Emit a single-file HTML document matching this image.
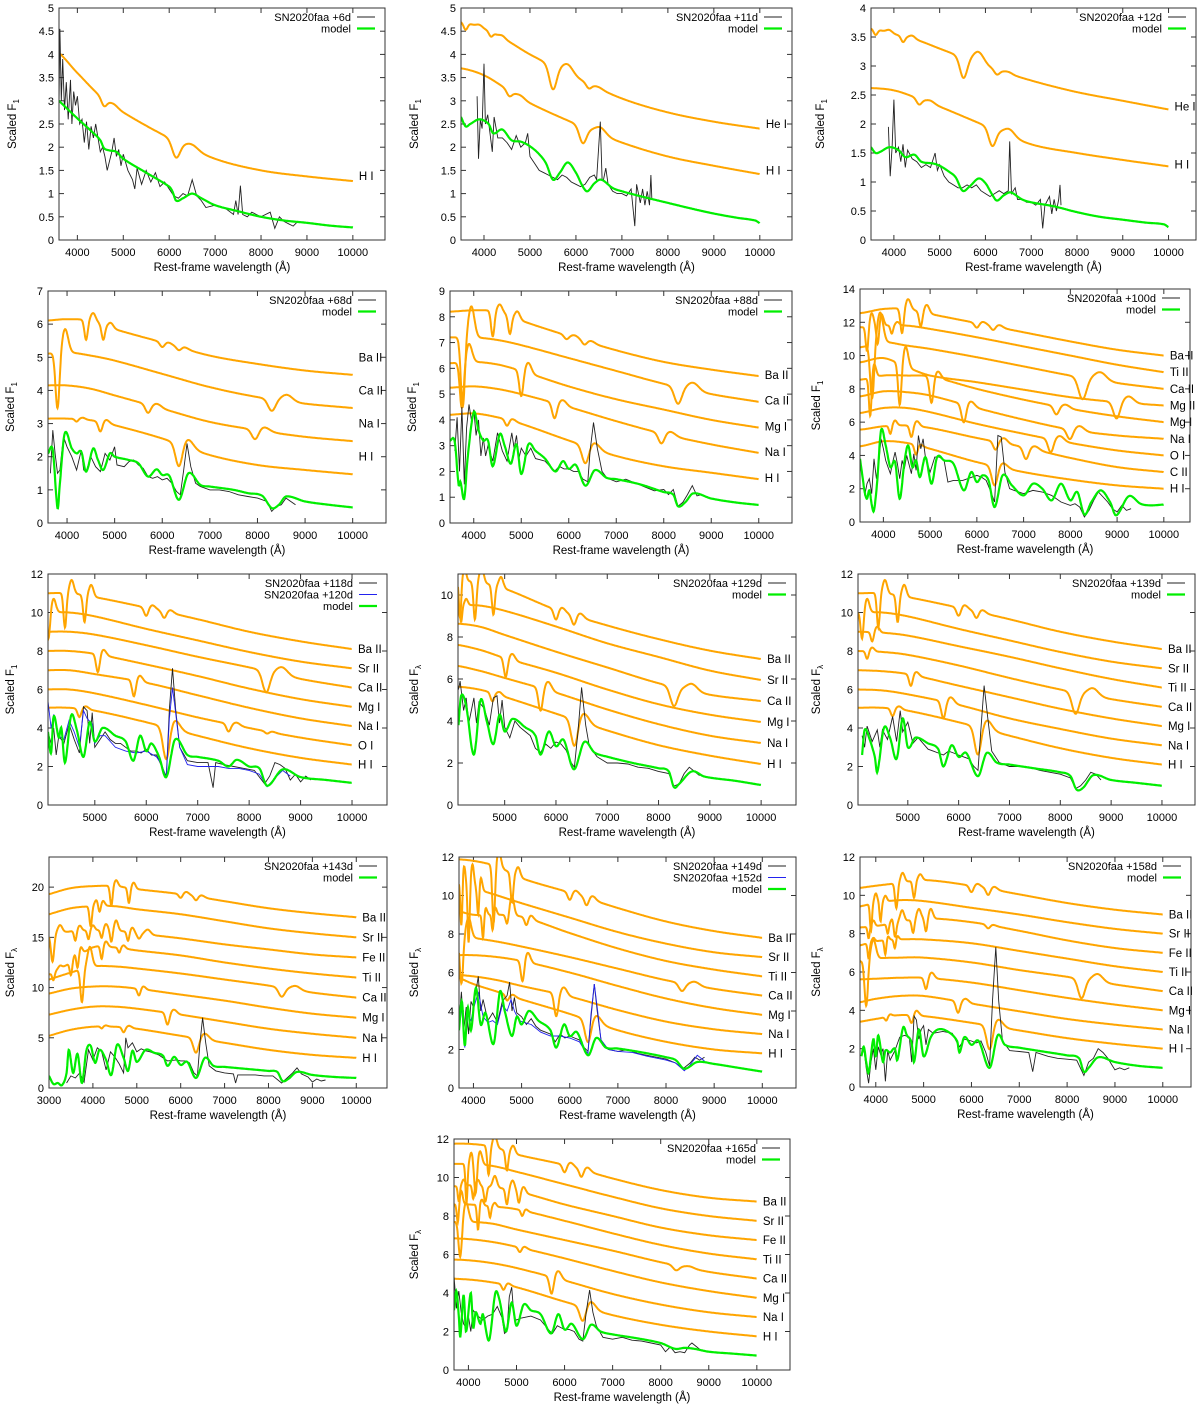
<!DOCTYPE html>
<html><head><meta charset="utf-8"><title>SN2020faa spectra</title>
<style>
html,body{margin:0;padding:0;background:#fff;}
svg{display:block;font-family:"Liberation Sans",Arial,sans-serif;}
</style></head>
<body>
<svg id="fig" xmlns="http://www.w3.org/2000/svg" width="1200" height="1406" viewBox="0 0 1200 1406"></svg>
<script>
// ---------- shared grid for orange continua ----------
const CONT_W=[3000,3500,4000,4500,5000,6000,7000,8000,9000,10000];
const X_TICKS_A=[4000,5000,6000,7000,8000,9000,10000];
const X_TICKS_B=[5000,6000,7000,8000,9000,10000];
const X_TICKS_C=[3000,4000,5000,6000,7000,8000,9000,10000];

// ================= PANEL 1 (+6d) =================
const P1_obs=[[3600,2.9],[3620,4.55],[3650,3.0],[3680,3.9],[3720,2.8],[3760,3.4],[3800,2.6],[3850,3.45],[3880,2.5],[3920,3.2],[3960,2.9],[4000,3.1],[4050,2.5],[4100,2.6],[4150,2.1],[4200,2.55],[4250,1.95],[4300,2.45],[4350,2.2],[4400,2.5],[4450,2.2],[4500,1.9],[4550,2.0],[4600,1.8],[4650,1.5],[4700,1.7],[4750,1.9],[4800,2.2],[4850,1.8],[4900,1.95],[4950,1.6],[5000,1.85],[5100,1.5],[5200,1.3],[5250,1.1],[5300,1.55],[5400,1.2],[5500,1.5],[5600,1.25],[5700,1.45],[5800,1.15],[5900,1.25],[6000,1.1],[6100,0.95],[6200,0.9],[6300,1.0],[6400,0.95],[6500,1.3],[6600,0.95],[6700,0.85],[6800,0.7],[7000,0.75],[7200,0.7],[7400,0.55],[7450,0.85],[7500,0.55],[7550,1.17],[7600,0.55],[7700,0.5],[7800,0.6],[7900,0.55],[8000,0.5],[8200,0.6],[8300,0.25],[8400,0.5],[8500,0.4],[8600,0.35],[8700,0.3],[8800,0.4]];
const P1_model=[[3600,3.0],[4000,2.62],[4300,2.35],[4500,2.15],[4580,1.98],[4700,1.93],[4850,1.9],[5000,1.75],[5500,1.45],[6000,1.15],[6070,1.05],[6150,0.85],[6300,0.9],[6500,1.0],[6700,0.9],[7000,0.75],[7500,0.62],[8000,0.5],[8500,0.42],[9000,0.37],[9500,0.31],[10000,0.27]];
const P1_ions=['H I'];
const P1_ionCont=[[4.1,4.1,3.6,3.1,2.75,2.2,1.75,1.5,1.37,1.27]];
const P1_ionFeat=[[[6150,0.35,6500,0.1,120],[4580,0.15,4800,0.05,80]]];
const P1_labelY=[1.38];

// ================= PANEL 2 (+11d) =================
const P2_obs=[[3850,3.1],[3880,1.75],[3920,2.6],[3960,2.4],[4000,3.8],[4030,2.5],[4080,2.7],[4130,2.3],[4180,1.9],[4220,2.65],[4300,2.2],[4400,2.2],[4500,2.1],[4600,1.95],[4700,2.25],[4800,2.0],[4900,2.1],[4950,2.3],[5000,1.8],[5100,1.65],[5200,1.5],[5300,1.45],[5400,1.4],[5500,1.35],[5600,1.3],[5700,1.4],[5800,1.35],[5900,1.25],[6000,1.2],[6100,1.15],[6200,1.2],[6300,1.35],[6400,1.4],[6450,1.3],[6530,2.55],[6570,1.3],[6600,1.3],[6650,1.55],[6700,1.2],[6800,1.05],[6900,1.0],[7000,1.0],[7100,0.95],[7200,1.1],[7280,0.3],[7320,1.2],[7400,0.8],[7450,1.1],[7500,0.75],[7550,1.05],[7600,0.75],[7630,1.4],[7650,0.9]];
const P2_model=[[3500,2.65],[3600,2.45],[3700,2.5],[3900,2.6],[4100,2.5],[4200,2.3],[4400,2.38],[4600,2.15],[4800,2.12],[5000,2.02],[5200,1.85],[5350,1.65],[5500,1.3],[5650,1.45],[5820,1.67],[6000,1.45],[6150,1.15],[6250,1.05],[6400,1.22],[6550,1.3],[6800,1.12],[7000,1.05],[7500,0.92],[8000,0.8],[8500,0.68],[9000,0.57],[9500,0.48],[9900,0.42],[10000,0.36]];
const P2_ions=['He I','H I'];
const P2_ionCont=[[4.7,4.7,4.55,4.3,4.0,3.5,3.05,2.75,2.55,2.4],[3.7,3.7,3.55,3.25,2.95,2.5,2.1,1.8,1.6,1.42]];
const P2_ionFeat=[[[5500,0.5,5820,0.2,110],[4150,0.1,4400,0.05,60],[3600,0.15,3900,0.05,60],[6280,0.1,6500,0.03,80]],[[6150,0.35,6530,0.15,110],[4550,0.12,4800,0.05,80]]];
const P2_labelY=[2.5,1.5];

// ================= PANEL 3 (+12d) =================
const P3_obs=[[3880,1.95],[3920,1.1],[3960,1.6],[4000,2.42],[4040,1.5],[4100,1.6],[4150,1.35],[4200,1.65],[4250,1.25],[4300,1.55],[4400,1.4],[4500,1.35],[4600,1.25],[4700,1.3],[4800,1.25],[4900,1.5],[4950,1.2],[5000,1.3],[5100,1.1],[5200,1.0],[5300,0.95],[5400,0.9],[5500,0.9],[5600,0.95],[5700,0.9],[5800,0.95],[5900,0.85],[6000,0.8],[6100,0.75],[6200,0.8],[6300,0.85],[6400,0.8],[6500,0.85],[6530,1.7],[6570,0.8],[6650,0.9],[6700,0.7],[6800,0.7],[6900,0.65],[7000,0.65],[7100,0.6],[7200,0.7],[7250,0.2],[7300,0.6],[7400,0.75],[7450,0.45],[7500,0.7],[7550,0.5],[7600,0.7],[7630,0.95],[7650,0.6]];
const P3_model=[[3500,1.6],[3600,1.5],[3700,1.52],[3900,1.6],[4100,1.55],[4250,1.43],[4450,1.47],[4600,1.35],[4850,1.32],[5000,1.28],[5200,1.18],[5350,1.08],[5500,0.85],[5650,0.92],[5850,1.06],[6000,0.98],[6150,0.78],[6250,0.68],[6400,0.77],[6550,0.82],[6800,0.7],[7000,0.65],[7500,0.58],[8000,0.48],[8500,0.4],[9000,0.35],[9500,0.3],[9900,0.27],[10000,0.22]];
const P3_ions=['He I','H I'];
const P3_ionCont=[[3.65,3.65,3.55,3.45,3.3,3.0,2.75,2.55,2.4,2.25],[2.62,2.62,2.58,2.45,2.3,1.97,1.65,1.5,1.38,1.27]];
const P3_ionFeat=[[[5520,0.35,5850,0.2,110],[3600,0.1,3900,0.05,60],[4200,0.1,4400,0.05,60],[6250,0.08,6500,0.03,80]],[[6150,0.3,6520,0.12,110],[4550,0.1,4800,0.04,80]]];
const P3_labelY=[2.3,1.3];

// ================= PANEL 4 (+68d) =================
const P4_obs=[[3650,1.5],[3700,2.8],[3750,2.1],[3800,1.5],[3850,1.6],[3900,2.3],[3950,2.5],[4000,2.3],[4100,2.0],[4200,1.6],[4300,2.2],[4350,1.6],[4400,1.55],[4500,2.0],[4600,1.7],[4700,1.55],[4800,2.1],[4900,1.9],[5000,2.3],[5050,1.75],[5200,1.7],[5300,1.85],[5400,1.9],[5500,1.75],[5600,1.65],[5700,1.4],[5800,1.35],[5900,1.4],[6000,1.3],[6100,1.35],[6200,1.2],[6300,0.95],[6380,0.85],[6450,1.6],[6520,2.4],[6600,1.7],[6700,1.2],[6800,1.1],[7000,1.0],[7200,1.0],[7400,0.95],[7600,0.85],[7800,0.8],[8000,0.75],[8200,0.65],[8300,0.35],[8400,0.5],[8500,0.55],[8600,0.75],[8700,0.65],[8800,0.55]];
const P4_model=[[3600,2.1],[3700,2.2],[3800,0.45],[3850,1.2],[3950,2.7],[4100,2.25],[4200,2.1],[4300,2.15],[4400,1.55],[4550,2.25],[4650,1.9],[4760,1.6],[4900,2.1],[5000,2.0],[5300,1.9],[5500,1.8],[5700,1.4],[5880,1.62],[6000,1.45],[6150,1.42],[6350,0.7],[6550,1.5],[6800,1.15],[7000,1.1],[7500,1.0],[7800,0.9],[8100,0.82],[8300,0.45],[8450,0.55],[8600,0.8],[9000,0.65],[9500,0.55],[10000,0.47]];
const P4_ions=['Ba II','Ca II','Na I','H I'];
const P4_ionCont=[[6.1,6.1,6.15,6.1,5.85,5.45,5.05,4.8,4.6,4.47],[5.1,5.1,5.15,5.05,4.9,4.5,4.1,3.8,3.6,3.47],[4.15,4.15,4.15,4.05,3.85,3.45,3.05,2.8,2.6,2.47],[3.15,3.15,3.15,3.1,2.95,2.55,2.05,1.75,1.6,1.47]];
const P4_ionFeat=[[[4400,0.6,4550,0.25,50],[4760,0.45,4920,0.15,50],[6000,0.15,6130,0.05,70],[6350,0.1,6480,0.05,70]],[[3800,1.7,3960,0.7,60],[8300,0.35,8620,0.2,110]],[[5700,0.25,5900,0.1,80],[7950,0.3,8150,0.12,100]],[[4200,0.08,4330,0.05,50],[4700,0.3,4830,0.1,60],[6350,0.7,6550,0.25,100]]];
const P4_labelY=[5.0,4.0,3.0,2.0];

// ================= PANEL 5 (+88d) =================
const P5_obs=[[3600,2.8],[3650,4.1],[3700,2.0],[3750,4.5],[3800,1.5],[3850,3.7],[3900,4.6],[3950,4.0],[4000,4.4],[4050,3.4],[4100,4.0],[4150,2.6],[4200,3.3],[4250,2.6],[4300,3.0],[4400,2.4],[4500,3.5],[4600,2.8],[4700,2.4],[4800,3.5],[4850,2.9],[4900,3.4],[4950,2.5],[5000,2.9],[5100,2.6],[5200,2.9],[5300,2.5],[5400,2.45],[5500,2.4],[5600,2.2],[5700,2.0],[5800,2.2],[5900,2.1],[6000,2.1],[6100,2.0],[6200,2.0],[6300,1.7],[6400,1.6],[6450,2.8],[6520,3.9],[6600,2.9],[6700,2.0],[6800,1.75],[7000,1.6],[7200,1.7],[7400,1.55],[7600,1.4],[7800,1.25],[8000,1.3],[8100,1.1],[8200,1.3],[8300,0.65],[8400,0.8],[8500,1.1],[8600,1.45],[8700,1.05],[8800,1.1]];
const P5_model=[[3500,3.2],[3600,3.15],[3680,1.5],[3720,1.6],[3800,0.95],[3870,2.5],[4000,4.3],[4100,3.6],[4200,3.2],[4300,3.2],[4400,2.2],[4550,3.45],[4650,3.0],[4780,2.3],[4900,3.05],[5000,1.9],[5150,3.05],[5300,2.8],[5500,2.5],[5720,2.0],[5880,2.4],[6000,2.1],[6150,2.25],[6350,1.45],[6550,2.05],[6800,1.75],[7000,1.7],[7500,1.5],[8000,1.2],[8200,1.1],[8300,0.65],[8450,0.8],[8620,1.15],[9000,0.95],[9500,0.8],[10000,0.7]];
const P5_ions=['Ba II','Ca II','Mg I','Na I','H I'];
const P5_ionCont=[[8.2,8.2,8.25,8.2,7.85,7.25,6.7,6.25,5.95,5.7],[7.2,7.2,7.2,7.1,6.9,6.4,5.9,5.4,5.0,4.7],[6.2,6.2,6.25,6.15,5.9,5.3,4.8,4.4,4.0,3.7],[5.25,5.25,5.3,5.2,5.0,4.5,3.95,3.45,3.05,2.72],[4.2,4.2,4.25,4.1,3.85,3.2,2.6,2.2,1.95,1.7]];
const P5_ionFeat=[[[4400,1.0,4550,0.3,50],[4760,0.7,4920,0.3,50],[5950,0.15,6130,0.1,70],[6330,0.15,6480,0.08,70]],[[3770,2.7,3950,1.2,60],[8300,0.65,8620,0.3,110]],[[3750,1.8,3900,0.7,60],[5000,1.0,5150,0.4,60]],[[5700,0.6,5880,0.2,70],[7950,0.4,8150,0.15,90]],[[4700,0.25,4820,0.08,60],[6350,0.7,6550,0.25,100]]];
const P5_labelY=[5.75,4.75,3.75,2.75,1.75];

// ================= PANEL 6 (+100d) =================
const P6_obs=[[3500,3.8],[3600,1.6],[3650,2.3],[3700,2.6],[3750,1.7],[3800,3.8],[3850,2.6],[3900,3.5],[3950,5.0],[4000,4.4],[4050,3.7],[4100,3.3],[4150,2.9],[4200,3.6],[4250,4.2],[4300,3.5],[4350,2.6],[4400,3.7],[4450,3.2],[4500,4.0],[4600,2.9],[4650,4.1],[4700,3.1],[4750,5.2],[4800,4.4],[4850,5.0],[4900,3.9],[5000,3.0],[5100,3.9],[5200,3.9],[5300,3.7],[5380,2.4],[5500,2.5],[5700,2.5],[5900,2.7],[6000,2.8],[6100,2.7],[6200,2.5],[6300,1.8],[6380,1.2],[6450,5.2],[6520,5.1],[6600,3.0],[6700,2.0],[6800,1.9],[7000,1.7],[7200,1.9],[7400,1.8],[7600,1.6],[7800,1.2],[8000,1.0],[8100,1.1],[8200,0.9],[8300,0.3],[8400,0.7],[8500,1.3],[8600,1.8],[8700,1.5],[8800,1.2],[8900,0.8],[9000,0.6],[9100,1.0],[9200,0.7],[9300,0.8]];
const P6_model=[[3500,3.8],[3560,2.6],[3600,1.8],[3650,1.4],[3700,1.9],[3760,0.9],[3800,0.7],[3870,2.5],[3950,5.5],[4050,4.6],[4150,3.3],[4250,3.6],[4350,1.4],[4450,3.6],[4530,4.6],[4620,3.3],[4700,3.7],[4780,2.7],[4900,3.9],[5030,2.3],[5150,3.9],[5300,3.7],[5500,3.5],[5720,1.9],[5880,3.0],[6000,2.4],[6120,2.8],[6250,2.5],[6380,0.9],[6550,2.8],[6750,2.2],[7000,1.6],[7200,2.3],[7400,2.0],[7600,1.3],[7800,2.3],[8000,1.3],[8150,1.8],[8300,0.45],[8450,1.2],[8650,1.9],[8850,1.2],[8980,0.4],[9250,1.55],[9500,1.1],[9700,1.0],[10000,1.05]];
const P6_ions=['Ba II','Ti II','Ca II','Mg II','Mg I','Na I','O I','C II','H I'];
const P6_ionCont=[[12.55,12.55,12.8,12.8,12.5,11.95,11.4,10.85,10.35,10.0],[11.7,11.7,11.8,11.8,11.6,11.1,10.55,10.0,9.45,9.0],[10.5,10.5,10.8,10.6,10.4,9.9,9.35,8.8,8.35,8.0],[9.6,9.6,9.85,9.3,8.8,8.4,7.95,7.5,7.2,7.0],[8.55,8.55,8.8,8.8,8.75,8.0,7.35,6.8,6.35,6.0],[7.55,7.55,7.85,7.8,7.6,6.85,6.15,5.55,5.2,5.0],[6.55,6.55,6.85,6.85,6.6,5.9,5.3,4.75,4.3,4.0],[5.55,5.55,5.75,5.8,5.65,5.05,4.5,3.85,3.3,3.0],[4.55,4.55,4.85,4.75,4.4,3.6,3.0,2.55,2.2,2.0]];
const P6_ionFeat=[[[4400,1.5,4530,0.6,50],[4800,0.9,4930,0.5,50],[6000,0.3,6130,0.15,70],[6350,0.25,6480,0.15,70]],[[3650,1.5,3750,0.8,40],[3880,1.2,3960,0.7,40],[4180,0.5,4300,0.2,40]],[[3760,3.3,3930,1.8,60],[8260,1.3,8640,0.5,120]],[[4350,2.5,4480,1.2,50],[8990,1.0,9250,0.4,100]],[[3720,2.4,3800,0.8,40],[5030,1.6,5170,0.4,60],[7700,0.5,7900,0.2,80]],[[5720,1.1,5880,0.3,70],[7990,0.6,8200,0.3,90]],[[7580,0.8,7780,0.3,80]],[[4150,0.5,4250,0.3,40],[4600,0.7,4720,0.3,50],[6400,0.5,6580,0.3,70],[7050,0.7,7250,0.2,80]],[[4700,0.6,4800,0.1,50],[6380,1.2,6560,0.3,90]]];
const P6_labelY=[10.0,9.0,8.0,7.0,6.0,5.0,4.0,3.0,2.0];

// ================= PANEL 7 (+118d / +120d) =================
const P7_obs=[[4090,3.8],[4150,3.2],[4200,4.0],[4250,2.6],[4300,3.6],[4400,3.2],[4500,4.2],[4600,3.4],[4700,2.7],[4780,5.1],[4850,4.9],[4900,3.2],[4950,4.8],[5000,3.0],[5100,3.4],[5200,3.8],[5300,3.4],[5400,3.2],[5500,3.2],[5600,3.0],[5700,2.8],[5800,2.8],[5900,2.7],[6000,2.9],[6100,2.6],[6200,2.6],[6300,2.0],[6390,1.5],[6450,5.0],[6510,7.1],[6570,5.0],[6650,3.0],[6800,2.3],[7000,2.2],[7200,2.2],[7300,0.9],[7350,2.2],[7500,2.1],[7700,2.0],[7900,1.9],[8100,1.8],[8300,1.1],[8400,1.5],[8500,2.2],[8600,2.1],[8700,1.9],[8800,1.3],[8900,1.6],[9000,1.2],[9100,1.5],[9200,1.3]];
const P7_obs2=[[4090,5.4],[4150,4.0],[4200,4.7],[4300,3.6],[4400,3.4],[4500,4.4],[4600,3.8],[4700,3.0],[4780,4.9],[4850,4.5],[4950,4.2],[5000,3.2],[5100,3.6],[5200,3.6],[5400,3.0],[5600,2.8],[5800,2.7],[6000,2.8],[6200,2.5],[6300,2.1],[6390,1.4],[6450,4.5],[6510,6.1],[6570,4.8],[6650,3.0],[6800,2.1],[7000,2.0],[7200,2.0],[7400,2.0],[7600,1.9],[7800,1.9],[8000,1.8],[8200,1.6],[8350,0.95],[8500,1.4],[8650,1.8],[8800,1.5]];
const P7_model=[[4090,3.8],[4150,2.7],[4200,4.6],[4300,3.5],[4350,4.0],[4420,2.2],[4540,4.65],[4650,3.9],[4780,2.5],[4900,4.3],[5000,3.3],[5150,4.0],[5400,3.6],[5600,3.3],[5750,2.3],[5880,3.6],[6000,2.8],[6100,3.2],[6250,2.5],[6390,1.45],[6560,3.4],[6800,2.6],[7000,2.5],[7400,2.3],[7600,2.0],[7760,2.35],[8000,2.0],[8200,1.9],[8350,1.0],[8650,1.85],[9000,1.45],[9500,1.3],[10000,1.15]];
const P7_ions=['Ba II','Sr II','Ca II','Mg I','Na I','O I','H I'];
const P7_ionCont=[[11,11,11,11.0,10.8,10.25,9.65,9.0,8.5,8.1],[10,10,10,10.0,9.8,9.15,8.55,7.95,7.45,7.1],[9,9,9,9.0,8.85,8.3,7.7,7.15,6.55,6.1],[8,8,8,8.0,7.85,7.3,6.7,6.05,5.5,5.1],[7,7,7,7.0,6.8,6.35,5.7,5.05,4.5,4.1],[6,6,6,6.0,5.8,5.2,4.55,4.0,3.5,3.1],[5,5,5.05,5.05,4.9,4.3,3.6,2.95,2.45,2.1]];
const P7_ionFeat=[[[4420,1.8,4550,0.7,40],[4800,1.4,4930,0.6,40],[6000,0.45,6120,0.2,60],[6350,0.35,6470,0.15,60]],[[4100,1.4,4200,0.7,40]],[[8330,1.1,8640,0.4,100]],[[5060,0.95,5170,0.3,50]],[[5760,0.85,5880,0.3,50]],[[7600,0.4,7760,0.15,60],[8350,0.12,8450,0.05,60]],[[4700,0.45,4830,0.15,50],[6390,1.75,6560,0.5,90]]];
const P7_labelY=[8.1,7.1,6.1,5.1,4.1,3.1,2.1];

// ================= PANEL 8 (+129d) =================
const P8_obs=[[4100,5.5],[4130,5.9],[4200,4.5],[4250,5.1],[4300,3.9],[4400,5.1],[4450,3.9],[4500,4.9],[4600,4.6],[4700,3.8],[4780,5.1],[4850,5.2],[4900,3.9],[4950,5.0],[5000,3.7],[5100,3.2],[5200,4.0],[5300,3.7],[5400,3.5],[5500,3.3],[5600,2.7],[5700,2.5],[5800,2.9],[5900,2.7],[6000,3.0],[6100,2.9],[6200,2.6],[6300,2.0],[6360,1.8],[6430,3.5],[6500,5.6],[6580,3.8],[6650,2.8],[6800,2.3],[7000,2.0],[7200,2.0],[7400,1.95],[7600,1.8],[7800,1.75],[8000,1.6],[8200,1.5],[8300,0.9],[8400,1.0],[8500,1.5],[8600,1.8],[8700,1.6],[8800,1.4]];
const P8_model=[[4100,3.8],[4150,5.2],[4250,4.7],[4400,2.4],[4530,5.0],[4650,4.0],[4780,2.9],[4900,4.3],[5000,3.5],[5150,4.1],[5400,3.7],[5600,3.3],[5700,2.4],[5860,3.5],[6000,2.8],[6150,3.1],[6350,1.7],[6550,3.0],[6750,2.5],[7000,2.3],[7500,2.0],[8000,1.75],[8200,1.6],[8300,0.85],[8400,1.0],[8650,1.6],[8900,1.35],[9500,1.15],[10000,0.95]];
const P8_ions=['Ba II','Sr II','Ca II','Mg I','Na I','H I'];
const P8_ionCont=[[10.7,10.7,10.7,10.6,10.3,9.3,8.55,7.9,7.35,6.95],[9.5,9.5,9.5,9.5,9.25,8.5,7.7,7.05,6.4,5.95],[8.65,8.65,8.65,8.5,8.1,7.3,6.55,5.8,5.25,4.95],[7.65,7.65,7.65,7.4,7.0,6.3,5.5,4.8,4.3,3.95],[6.65,6.65,6.65,6.4,6.05,5.35,4.55,3.85,3.3,2.95],[5.65,5.65,5.65,5.5,5.15,4.35,3.55,2.85,2.35,1.95]];
const P8_ionFeat=[[[4130,1.8,4220,0.6,30],[4420,1.8,4550,0.7,40],[4780,1.4,4930,0.5,40],[6000,0.5,6120,0.2,60],[6350,0.45,6480,0.2,60]],[[4150,0.8,4250,0.3,30]],[[8300,0.9,8650,0.35,100]],[[5020,0.9,5150,0.3,50]],[[5700,1.1,5850,0.4,60]],[[4760,0.4,4900,0.15,50],[6360,1.3,6550,0.45,90]]];
const P8_labelY=[6.95,5.95,4.95,3.95,2.95,1.95];

// ================= PANEL 9 (+139d) =================
const P9_obs=[[4100,3.6],[4150,3.0],[4200,4.1],[4300,3.3],[4400,3.9],[4450,3.0],[4500,3.9],[4600,3.4],[4700,4.6],[4780,3.3],[4850,4.9],[4900,3.8],[5000,4.3],[5100,3.2],[5200,3.5],[5300,3.2],[5400,2.9],[5500,2.8],[5600,2.7],[5700,2.6],[5800,2.8],[5900,2.7],[6000,2.6],[6100,2.5],[6200,2.4],[6300,2.0],[6380,1.8],[6440,4.0],[6500,6.2],[6570,4.6],[6650,2.8],[6800,2.2],[7000,2.0],[7200,2.0],[7400,1.95],[7600,1.8],[7800,1.7],[8000,1.6],[8200,1.4],[8300,0.85],[8400,1.0],[8500,1.3],[8600,1.7],[8700,1.6],[8800,1.3]];
const P9_model=[[4100,2.6],[4150,3.9],[4250,3.4],[4350,2.5],[4400,1.7],[4530,4.0],[4650,3.5],[4780,2.4],[4900,4.5],[5000,3.0],[5150,3.5],[5400,3.2],[5600,2.9],[5700,2.0],[5860,3.1],[6000,2.5],[6150,2.7],[6380,1.5],[6550,2.7],[6750,2.2],[7000,2.1],[7500,1.9],[8000,1.7],[8200,1.5],[8320,0.8],[8450,0.9],[8650,1.55],[9000,1.3],[9500,1.15],[10000,1.0]];
const P9_ions=['Ba II','Sr II','Ti II','Ca II','Mg I','Na I','H I'];
const P9_ionCont=[[11,11,11,11,10.8,10.25,9.65,9.0,8.5,8.1],[10,10,10,10,9.8,9.15,8.55,7.95,7.45,7.1],[9,9,9,8.95,8.8,8.25,7.7,7.1,6.55,6.1],[8,8,8,7.95,7.8,7.25,6.6,6.0,5.5,5.1],[7,7,7,6.95,6.8,6.2,5.6,5.0,4.5,4.1],[6,6,6,5.95,5.75,5.2,4.5,3.95,3.45,3.1],[5,5,5.05,5.05,4.9,4.3,3.6,2.95,2.45,2.1]];
const P9_ionFeat=[[[4420,1.8,4550,0.7,40],[4800,1.4,4930,0.6,40],[6000,0.45,6120,0.2,60],[6350,0.35,6470,0.15,60]],[[4100,1.4,4200,0.7,40]],[[4300,0.5,4400,0.3,40]],[[4200,0.4,4300,0.2,40],[8300,1.1,8640,0.4,100]],[[5060,0.6,5170,0.2,50]],[[5700,0.9,5850,0.3,60]],[[4700,0.4,4830,0.15,50],[6380,1.5,6560,0.5,90]]];
const P9_labelY=[8.1,7.1,6.1,5.1,4.1,3.1,2.1];

// ================= PANEL 10 (+143d) =================
const P10_obs=[[3400,0.5],[3500,1.2],[3600,1.0],[3700,1.5],[3800,0.6],[3900,3.8],[4000,2.8],[4100,4.0],[4200,3.6],[4300,1.8],[4400,3.6],[4500,3.1],[4600,2.4],[4700,1.5],[4750,5.0],[4800,4.0],[4900,4.5],[5000,3.6],[5100,3.9],[5200,3.7],[5300,3.6],[5500,3.3],[5700,2.7],[5900,2.8],[6000,2.7],[6100,2.7],[6200,2.5],[6300,1.5],[6380,1.2],[6440,4.5],[6500,7.0],[6570,4.5],[6650,2.2],[6800,1.7],[7000,1.5],[7200,1.4],[7250,0.5],[7300,1.3],[7500,1.3],[7700,1.3],[7900,1.2],[8100,1.2],[8300,0.5],[8400,0.9],[8550,1.5],[8650,2.0],[8750,1.4],[8900,1.1],[9000,0.6],[9100,0.9],[9200,0.7],[9300,0.8]];
const P10_model=[[3000,1.2],[3100,0.4],[3200,0.5],[3300,0.3],[3400,1.5],[3450,3.8],[3550,1.5],[3650,3.4],[3750,0.5],[3850,3.7],[3950,4.2],[4050,2.5],[4150,3.8],[4300,2.8],[4420,1.3],[4550,4.3],[4700,3.0],[4800,1.7],[4900,3.7],[5000,2.6],[5200,3.8],[5400,3.5],[5600,3.2],[5700,2.2],[5850,3.1],[6000,2.3],[6150,2.6],[6350,1.0],[6550,3.0],[6750,2.2],[7000,2.1],[7500,1.9],[8000,1.7],[8200,1.6],[8320,0.7],[8450,0.9],[8650,1.6],[9000,1.3],[9500,1.1],[10000,1.0]];
const P10_ions=['Ba II','Sr II','Fe II','Ti II','Ca II','Mg I','Na I','H I'];
const P10_ionCont=[[19.3,19.9,20.1,20.1,19.8,19.3,18.6,17.9,17.4,17.0],[17.3,17.9,18.1,18.1,17.8,17.3,16.6,15.9,15.4,15.0],[15.2,15.6,15.7,15.7,15.4,14.9,14.3,13.8,13.3,13.0],[11.3,12.5,14.0,14.0,13.7,13.2,12.5,11.9,11.4,11.0],[10.8,11.5,12.1,12.1,11.9,11.4,10.8,10.2,9.5,9.0],[9.4,9.9,10.1,10.1,9.9,9.3,8.7,8.0,7.4,7.0],[7.3,7.8,8.1,8.1,7.9,7.3,6.6,5.9,5.4,5.0],[5.2,5.8,6.1,6.1,5.9,5.2,4.5,3.8,3.3,3.0]];
const P10_ionFeat=[[[4420,2.0,4530,0.6,40],[4820,1.5,4930,0.6,40],[6000,0.4,6130,0.3,60],[6350,0.4,6480,0.2,60]],[[3950,2.0,4080,0.6,40],[4150,0.8,4230,0.5,40]],[[3080,2.7,3250,0.8,50],[3600,1.0,3700,0.5,40],[3900,0.9,4000,0.5,40],[4200,0.8,4300,0.6,40],[4420,1.2,4530,1.0,40],[4800,0.9,4900,0.5,40],[5050,0.5,5250,0.5,60]],[[3100,0.8,3250,0.3,40],[3500,1.3,3600,0.6,40],[3650,1.5,3720,0.8,40],[4200,1.3,4300,0.5,40],[4600,0.5,4700,0.3,40]],[[3750,3.3,3930,2.0,50],[8300,0.9,8620,0.4,100]],[[5050,0.7,5150,0.3,50]],[[5700,1.2,5850,0.4,60]],[[4200,0.2,4300,0.1,40],[4700,0.5,4830,0.2,50],[6350,1.5,6550,0.6,90]]];
const P10_labelY=[17.0,15.0,13.0,11.0,9.0,7.0,5.0,3.0];

// ================= PANEL 11 (+149d / +152d) =================
const P11_obs=[[3700,3.4],[3750,5.0],[3800,3.0],[3850,4.2],[3900,2.8],[3950,4.5],[4000,4.2],[4100,5.8],[4150,4.0],[4200,4.6],[4300,3.5],[4400,3.9],[4500,3.4],[4600,4.5],[4700,4.8],[4750,5.5],[4800,4.0],[4850,4.7],[4900,3.9],[5000,3.7],[5100,3.3],[5200,3.6],[5300,3.2],[5400,3.0],[5500,2.9],[5600,2.8],[5700,2.4],[5800,2.8],[5900,2.6],[6000,2.7],[6100,2.6],[6200,2.5],[6300,2.1],[6380,1.9],[6440,3.6],[6510,5.4],[6570,4.0],[6650,2.5],[6800,2.0],[7000,1.9],[7200,2.0],[7400,1.8],[7600,1.7],[7800,1.6],[8000,1.5],[8200,1.3],[8350,1.0],[8500,1.3],[8600,1.6],[8700,1.45],[8800,1.6]];
const P11_obs2=[[3700,4.0],[3750,4.3],[3820,2.1],[3880,3.8],[3950,3.5],[4000,4.1],[4100,5.0],[4200,3.7],[4300,3.4],[4400,3.5],[4500,3.3],[4600,4.3],[4700,4.0],[4780,4.6],[4850,4.0],[4950,3.5],[5050,3.4],[5200,3.3],[5400,2.9],[5600,2.7],[5800,2.7],[6000,2.6],[6200,2.4],[6300,2.0],[6380,1.8],[6440,3.8],[6510,5.4],[6570,4.2],[6650,2.5],[6800,2.0],[7000,1.9],[7300,1.85],[7600,1.65],[8000,1.45],[8200,1.3],[8380,0.9],[8500,1.2],[8650,1.7],[8800,1.4]];
const P11_model=[[3700,3.0],[3760,4.5],[3820,2.2],[3880,4.2],[3950,3.0],[4050,5.2],[4150,3.3],[4250,3.9],[4420,2.3],[4550,5.0],[4650,4.0],[4800,2.7],[4900,3.7],[5000,3.3],[5150,4.0],[5350,3.5],[5600,3.0],[5720,2.1],[5880,3.3],[6000,2.7],[6150,2.9],[6380,1.7],[6550,2.6],[6750,2.1],[7000,2.05],[7500,1.85],[8000,1.6],[8200,1.45],[8380,1.0],[8650,1.35],[9000,1.25],[9500,1.05],[10000,0.85]];
const P11_ions=['Ba II','Sr II','Ti II','Ca II','Mg I','Na I','H I'];
const P11_ionCont=[[11.9,11.9,11.8,11.5,10.9,10.15,9.35,8.65,8.15,7.8],[10.9,10.9,10.4,10.0,9.6,8.85,8.1,7.5,7.05,6.8],[9.3,9.3,9.0,9.0,8.9,8.05,7.25,6.6,6.15,5.8],[8.0,8.0,7.8,7.6,7.35,6.8,6.2,5.6,5.15,4.8],[6.9,6.9,6.9,6.8,6.6,6.0,5.3,4.65,4.15,3.8],[5.9,5.9,5.8,5.6,5.3,4.75,4.05,3.45,3.05,2.8],[5.9,5.9,5.4,5.0,4.6,3.85,3.0,2.4,2.0,1.8]];
const P11_ionFeat=[[[4420,3.0,4530,0.8,40],[4800,1.5,4930,0.5,40],[6000,0.4,6130,0.2,60],[6350,0.4,6480,0.2,60]],[[3750,2.5,3800,1.0,30],[3900,3.0,3980,1.2,30],[4100,1.5,4150,0.7,30]],[[4200,1.3,4250,0.4,30],[4400,0.9,4450,0.4,30],[4700,0.5,4800,1.0,40],[5100,0.4,5200,0.2,50]],[[3750,2.5,3900,1.0,50],[8330,0.4,8600,0.2,90]],[[5020,1.1,5130,0.5,50]],[[5720,1.2,5880,0.4,60]],[[4700,0.3,4830,0.1,50],[6380,1.2,6560,0.4,90]]];
const P11_labelY=[7.8,6.8,5.8,4.8,3.8,2.8,1.8];

// ================= PANEL 12 (+158d) =================
const P12_obs=[[3700,1.7],[3750,2.0],[3800,1.0],[3850,0.2],[3900,1.3],[3950,2.0],[4000,0.9],[4050,2.1],[4100,1.7],[4150,2.0],[4200,0.3],[4250,1.9],[4300,1.4],[4400,1.9],[4500,2.6],[4600,2.7],[4700,2.6],[4750,1.3],[4800,3.7],[4850,3.5],[4900,2.5],[4950,3.0],[5000,3.2],[5050,2.2],[5100,3.0],[5200,2.8],[5400,2.9],[5600,2.8],[5700,2.3],[5750,2.1],[5850,2.5],[6000,2.4],[6100,2.3],[6200,2.4],[6300,1.8],[6380,1.1],[6440,4.5],[6510,7.3],[6570,4.5],[6650,2.4],[6800,1.9],[7000,1.85],[7200,1.8],[7280,0.8],[7350,1.8],[7600,1.6],[7800,1.5],[8000,1.45],[8200,1.4],[8350,0.6],[8450,1.3],[8550,1.5],[8650,2.0],[8750,1.8],[8850,1.5],[9000,0.9],[9100,1.0],[9200,0.9],[9300,1.0]];
const P12_model=[[3700,1.6],[3750,2.1],[3800,1.3],[3850,0.75],[3950,2.5],[4000,1.6],[4050,2.7],[4150,1.3],[4200,1.9],[4300,1.8],[4400,2.0],[4450,1.4],[4570,3.1],[4650,2.7],[4750,2.3],[4800,1.3],[4900,3.0],[5000,1.6],[5150,2.6],[5300,3.0],[5500,2.9],[5700,2.4],[5750,1.8],[5850,2.6],[6000,2.2],[6150,2.4],[6380,1.0],[6550,2.7],[6700,2.2],[7000,2.05],[7500,1.85],[8000,1.65],[8250,1.5],[8350,0.8],[8450,1.0],[8650,1.55],[9000,1.3],[9500,1.1],[10000,1.0]];
const P12_ions=['Ba II','Sr II','Fe II','Ti II','Ca II','Mg I','Na I','H I'];
const P12_ionCont=[[10.35,10.35,10.5,10.65,10.8,10.5,10.05,9.6,9.25,9.0],[9.35,9.35,9.6,9.75,9.7,9.35,9.0,8.6,8.25,8.0],[8.3,8.3,8.4,8.6,8.8,8.6,8.15,7.65,7.25,7.0],[7.3,7.3,7.6,7.7,7.7,7.5,7.1,6.7,6.3,6.0],[6.5,6.5,6.7,6.75,6.75,6.5,6.1,5.75,5.35,5.0],[5.6,5.6,5.65,5.7,5.7,5.45,5.05,4.65,4.3,4.0],[4.35,4.35,4.6,4.75,4.75,4.35,3.95,3.55,3.25,3.0],[3.35,3.35,3.55,3.75,3.7,3.35,2.95,2.55,2.25,2.0]];
const P12_ionFeat=[[[4430,1.3,4560,0.5,40],[4800,0.9,4930,0.3,40],[6000,0.35,6130,0.15,60],[6350,0.35,6480,0.15,60]],[[3900,1.4,4000,0.5,30],[4100,1.0,4200,0.3,30]],[[3850,0.6,3950,0.3,30],[4250,0.5,4350,0.3,30],[4400,0.8,4550,0.6,40],[4780,0.7,4900,0.5,40],[5050,0.7,5150,0.5,40],[6350,0.2,6450,0.05,60]],[[3850,0.8,3950,0.2,30],[4200,0.8,4250,0.2,30],[4400,0.5,4450,0.2,30]],[[3800,2.4,3950,1.0,50],[8300,1.0,8640,0.4,100]],[[5050,0.6,5170,0.3,50]],[[5720,0.6,5880,0.2,60]],[[4220,0.2,4300,0.1,40],[4750,0.45,4850,0.25,50],[6380,1.3,6560,0.4,90]]];
const P12_labelY=[9.0,8.0,7.0,6.0,5.0,4.0,3.0,2.0];

// ================= PANEL 13 (+165d) =================
const P13_obs=[[3700,4.9],[3750,3.2],[3800,4.1],[3850,3.0],[3900,2.4],[3950,2.2],[4000,2.8],[4050,2.0],[4100,3.1],[4200,2.8],[4300,2.6],[4400,2.8],[4500,2.9],[4600,3.3],[4700,2.7],[4750,1.9],[4800,2.0],[4850,3.8],[4900,4.3],[4950,2.7],[5000,2.6],[5100,2.7],[5300,2.8],[5500,2.6],[5700,2.0],[5750,1.9],[5850,2.3],[6000,2.1],[6100,2.1],[6200,2.0],[6300,1.6],[6380,1.5],[6450,3.0],[6520,4.15],[6590,3.0],[6660,2.3],[6800,1.7],[7000,1.6],[7200,1.7],[7400,1.55],[7600,1.5],[7800,1.4],[8000,1.3],[8100,0.95],[8200,1.2],[8300,0.9],[8400,0.95],[8500,0.9],[8600,1.3],[8650,1.4],[8750,1.2],[8850,1.0]];
const P13_model=[[3700,3.1],[3750,4.1],[3800,2.8],[3830,1.7],[3900,3.9],[3950,2.0],[4050,4.0],[4100,2.2],[4150,3.0],[4250,2.4],[4300,2.9],[4430,1.55],[4560,4.0],[4650,3.6],[4780,2.0],[4900,3.5],[5000,2.3],[5150,3.4],[5300,3.1],[5500,2.9],[5720,1.9],[5870,2.9],[6000,2.1],[6150,2.4],[6380,1.6],[6550,2.35],[6750,2.0],[7000,1.85],[7500,1.65],[8000,1.4],[8300,1.1],[8500,1.15],[8700,1.1],[9000,0.95],[9500,0.85],[10000,0.75]];
const P13_ions=['Ba II','Sr II','Fe II','Ti II','Ca II','Mg I','Na I','H I'];
const P13_ionCont=[[11.75,11.75,11.75,11.6,11.2,10.65,9.95,9.35,8.95,8.75],[10.7,10.7,10.7,10.6,10.3,9.65,9.0,8.4,8.0,7.75],[9.5,9.5,9.6,9.5,9.3,8.6,8.0,7.4,7.0,6.75],[8.6,8.6,8.6,8.5,8.35,7.75,7.1,6.5,6.05,5.75],[7.7,7.7,7.7,7.6,7.3,6.75,6.2,5.6,5.1,4.75],[6.85,6.85,6.8,6.65,6.4,5.8,5.15,4.55,4.1,3.75],[5.75,5.75,5.7,5.55,5.3,4.65,3.95,3.4,3.0,2.75],[4.75,4.75,4.7,4.55,4.3,3.55,2.85,2.35,2.0,1.75]];
const P13_ionFeat=[[[4420,1.5,4550,0.6,40],[4800,1.0,4930,0.4,40],[6000,0.4,6130,0.2,60],[6350,0.4,6480,0.2,60]],[[3960,2.0,4060,0.6,30],[4150,1.6,4240,0.7,40]],[[3800,0.8,3900,0.3,30],[4100,0.7,4200,0.3,30],[4350,0.8,4550,0.6,40],[4800,0.8,4920,0.5,40],[5050,0.6,5150,0.3,40]],[[3780,1.0,3850,0.7,30],[4200,1.3,4280,0.3,30],[4450,0.6,4550,0.2,30],[5120,0.3,5200,0.1,40]],[[3830,1.9,3950,1.0,50],[8320,0.25,8600,0.1,90]],[[5070,0.25,5170,0.1,50]],[[5730,0.9,5870,0.4,60]],[[4730,0.3,4830,0.1,50],[6380,0.8,6550,0.4,90]]];
const P13_labelY=[8.75,7.75,6.75,5.75,4.75,3.75,2.75,1.75];

// ---------- panel layout (geometry only) ----------
const PANELS=[
 {id:1,L:59,R:385,T:8,B:240,x0:3600,x1:10700,y0:0,y1:5,ystep:0.5,xt:X_TICKS_A,ylx:16,sub:'1',leg:['SN2020faa +6d'],obs:P1_obs,model:P1_model,ions:P1_ions,cont:P1_ionCont,feat:P1_ionFeat,lab:P1_labelY},
 {id:2,L:461,R:792,T:8,B:240,x0:3500,x1:10700,y0:0,y1:5,ystep:0.5,xt:X_TICKS_A,ylx:418,sub:'1',leg:['SN2020faa +11d'],obs:P2_obs,model:P2_model,ions:P2_ions,cont:P2_ionCont,feat:P2_ionFeat,lab:P2_labelY},
 {id:3,L:871,R:1196,T:8,B:240,x0:3500,x1:10600,y0:0,y1:4,ystep:0.5,xt:X_TICKS_A,ylx:824,sub:'1',leg:['SN2020faa +12d'],obs:P3_obs,model:P3_model,ions:P3_ions,cont:P3_ionCont,feat:P3_ionFeat,lab:P3_labelY},
 {id:4,L:48,R:386,T:291,B:523,x0:3600,x1:10700,y0:0,y1:7,ystep:1,xt:X_TICKS_A,ylx:14,sub:'1',leg:['SN2020faa +68d'],obs:P4_obs,model:P4_model,ions:P4_ions,cont:P4_ionCont,feat:P4_ionFeat,lab:P4_labelY},
 {id:5,L:450,R:792,T:291,B:523,x0:3500,x1:10700,y0:0,y1:9,ystep:1,xt:X_TICKS_A,ylx:416,sub:'1',leg:['SN2020faa +88d'],obs:P5_obs,model:P5_model,ions:P5_ions,cont:P5_ionCont,feat:P5_ionFeat,lab:P5_labelY},
 {id:6,L:860,R:1190,T:289,B:522,x0:3500,x1:10560,y0:0,y1:14,ystep:2,xt:X_TICKS_A,ylx:820,sub:'1',leg:['SN2020faa +100d'],obs:P6_obs,model:P6_model,ions:P6_ions,cont:P6_ionCont,feat:P6_ionFeat,lab:P6_labelY},
 {id:7,L:48,R:387,T:574,B:805,x0:4090,x1:10680,y0:0,y1:12,ystep:2,xt:X_TICKS_B,ylx:14,sub:'1',leg:['SN2020faa +118d','SN2020faa +120d'],obs:P7_obs,obs2:P7_obs2,model:P7_model,ions:P7_ions,cont:P7_ionCont,feat:P7_ionFeat,lab:P7_labelY},
 {id:8,L:458,R:796,T:574,B:805,x0:4090,x1:10680,y0:0,y1:11,ystep:2,xt:X_TICKS_B,ylx:418,sub:'λ',leg:['SN2020faa +129d'],obs:P8_obs,model:P8_model,ions:P8_ions,cont:P8_ionCont,feat:P8_ionFeat,lab:P8_labelY},
 {id:9,L:858,R:1195,T:574,B:805,x0:4020,x1:10650,y0:0,y1:12,ystep:2,xt:X_TICKS_B,ylx:820,sub:'λ',leg:['SN2020faa +139d'],obs:P9_obs,model:P9_model,ions:P9_ions,cont:P9_ionCont,feat:P9_ionFeat,lab:P9_labelY},
 {id:10,L:49,R:387,T:857,B:1088,x0:3000,x1:10700,y0:0,y1:23,ystep:5,xt:X_TICKS_C,ylx:14,sub:'λ',leg:['SN2020faa +143d'],obs:P10_obs,model:P10_model,ions:P10_ions,cont:P10_ionCont,feat:P10_ionFeat,lab:P10_labelY},
 {id:11,L:459,R:796,T:857,B:1088,x0:3700,x1:10700,y0:0,y1:12,ystep:2,xt:X_TICKS_A,ylx:418,sub:'λ',leg:['SN2020faa +149d','SN2020faa +152d'],obs:P11_obs,obs2:P11_obs2,model:P11_model,ions:P11_ions,cont:P11_ionCont,feat:P11_ionFeat,lab:P11_labelY},
 {id:12,L:860,R:1191,T:857,B:1087,x0:3670,x1:10590,y0:0,y1:12,ystep:2,xt:X_TICKS_A,ylx:820,sub:'λ',leg:['SN2020faa +158d'],obs:P12_obs,model:P12_model,ions:P12_ions,cont:P12_ionCont,feat:P12_ionFeat,lab:P12_labelY},
 {id:13,L:454,R:790,T:1139,B:1370,x0:3700,x1:10690,y0:0,y1:12,ystep:2,xt:X_TICKS_A,ylx:418,sub:'λ',leg:['SN2020faa +165d'],obs:P13_obs,model:P13_model,ions:P13_ions,cont:P13_ionCont,feat:P13_ionFeat,lab:P13_labelY}
];

const NS='http://www.w3.org/2000/svg';
const svg=document.getElementById('fig');
function el(tag,attrs,parent){const e=document.createElementNS(NS,tag);for(const k in attrs)e.setAttribute(k,attrs[k]);(parent||svg).appendChild(e);return e;}

// Hermite interpolation through (xs,ys)
function hermite(xs,ys,x){
  const n=xs.length;
  if(x<=xs[0])return ys[0];
  if(x>=xs[n-1])return ys[n-1];
  let i=0;while(i<n-2&&x>xs[i+1])i++;
  const slope=k=>{
    if(k===0)return (ys[1]-ys[0])/(xs[1]-xs[0]);
    if(k===n-1)return (ys[n-1]-ys[n-2])/(xs[n-1]-xs[n-2]);
    return (ys[k+1]-ys[k-1])/(xs[k+1]-xs[k-1]);
  };
  const h=xs[i+1]-xs[i],t=(x-xs[i])/h,t2=t*t,t3=t2*t;
  return (2*t3-3*t2+1)*ys[i]+(t3-2*t2+t)*h*slope(i)+(-2*t3+3*t2)*ys[i+1]+(t3-t2)*h*slope(i+1);
}
function ionFlux(cont,feats,x){
  let y=hermite(CONT_W,cont,x);
  for(const f of feats){
    const [a,d,b,e,w]=f;
    y+=-d*Math.exp(-Math.pow((x-a)/w,2))+e*Math.exp(-Math.pow((x-b)/(1.5*w),2));
  }
  return y;
}
function fmt(v){return (Math.round(v*10)/10).toString();}

PANELS.forEach(p=>{
  const g=el('g',{});
  
  
  const X=w=>p.L+(w-p.x0)/(p.x1-p.x0)*(p.R-p.L);
  const Y=v=>p.B-(v-p.y0)/(p.y1-p.y0)*(p.B-p.T);
  const cp=el('clipPath',{id:'clip'+p.id},g);
  el('rect',{x:p.L,y:p.T,width:p.R-p.L,height:p.B-p.T},cp);

  // y ticks
  for(let v=p.y0;v<=p.y1+1e-6;v+=p.ystep){
    const y=Y(v);
    const t1=el('line',{x1:p.L,y1:y,x2:p.L+5,y2:y,stroke:'#333','stroke-width':1},g);
    
    
    el('line',{x1:p.R,y1:y,x2:p.R-5,y2:y,stroke:'#333','stroke-width':1},g);
    const tx=el('text',{x:p.L-5,y:y+4,'font-size':11,'text-anchor':'end',fill:'#000'},g);
    
    
    tx.textContent=fmt(v);
  }
  // x ticks
  p.xt.forEach(w=>{
    const x=X(w);
    const t1=el('line',{x1:x,y1:p.B,x2:x,y2:p.B-5,stroke:'#333','stroke-width':1},g);
    
    
    el('line',{x1:x,y1:p.T,x2:x,y2:p.T+5,stroke:'#333','stroke-width':1},g);
    const tx=el('text',{x:x,y:p.B+16,'font-size':11,'text-anchor':'middle',fill:'#000'},g);
    
    
    tx.textContent=String(w);
  });
  // axis titles
  const xt=el('text',{x:(p.L+p.R)/2,y:p.B+31,'font-size':11.5,'text-anchor':'middle',fill:'#000'},g);
  
  
  xt.textContent='Rest-frame wavelength (Å)';
  const yc=(p.T+p.B)/2;
  const yt=el('text',{x:p.ylx,y:yc,'font-size':11.5,'text-anchor':'middle',fill:'#000',transform:'rotate(-90 '+p.ylx+' '+yc+')'},g);
  
  
  yt.appendChild(document.createTextNode('Scaled F'));
  const sb=el('tspan',{'font-size':8,dy:3},yt);
  sb.textContent=p.sub;

  const plot=el('g',{'clip-path':'url(#clip'+p.id+')'},g);
  // orange ion lines
  p.ions.forEach((ion,k)=>{
    let d='';
    const start=Math.max(p.x0,3000);
    for(let w=start;w<=10000;w+=8){
      const v=ionFlux(p.cont[k],p.feat[k],w);
      d+=(d?'L':'M')+X(w).toFixed(1)+','+Y(v).toFixed(1);
    }
    const path=el('path',{d:d,fill:'none',stroke:'#ffa500','stroke-width':2},plot);
    
    
    const lt=el('text',{x:X(10000)+6,y:Y(p.lab[k])+4,'font-size':11.5,fill:'#000'},g);
    
    
    lt.textContent=ion;
  });
  // observed
  const obsPath=arr=>arr.map((pt,i)=>(i?'L':'M')+X(pt[0]).toFixed(1)+','+Y(pt[1]).toFixed(1)).join('');
  const ob=el('path',{d:obsPath(p.obs),fill:'none',stroke:'#222','stroke-width':0.9},plot);
  
  
  if(p.obs2){
    const ob2=el('path',{d:obsPath(p.obs2),fill:'none',stroke:'#2222ee','stroke-width':0.9},plot);
    
    
  }
  // model
  const mx=p.model.map(q=>q[0]),my=p.model.map(q=>q[1]);
  let md='';
  for(let w=mx[0];w<=mx[mx.length-1];w+=8){
    md+=(md?'L':'M')+X(w).toFixed(1)+','+Y(hermite(mx,my,w)).toFixed(1);
  }
  const mp=el('path',{d:md,fill:'none',stroke:'#00ee00','stroke-width':2.2},plot);
  
  

  // border
  const bd=el('rect',{x:p.L,y:p.T,width:p.R-p.L,height:p.B-p.T,fill:'none',stroke:'#333','stroke-width':1},g);
  
  

  // legend
  const entries=p.leg.map(s=>[s,p.obs2&&s!==p.leg[0]?'#2222ee':'#222',0.9]).concat([['model','#00ee00',2.2]]);
  entries.forEach((e,i)=>{
    const yy=p.T+9+i*11.5;
    const lt=el('text',{x:p.R-34,y:yy+4,'font-size':11,'text-anchor':'end',fill:'#000'},g);
    
    
    lt.textContent=e[0];
    el('line',{x1:p.R-28,y1:yy,x2:p.R-10,y2:yy,stroke:e[1],'stroke-width':e[2]},g);
  });
});
</script>
</body></html>
